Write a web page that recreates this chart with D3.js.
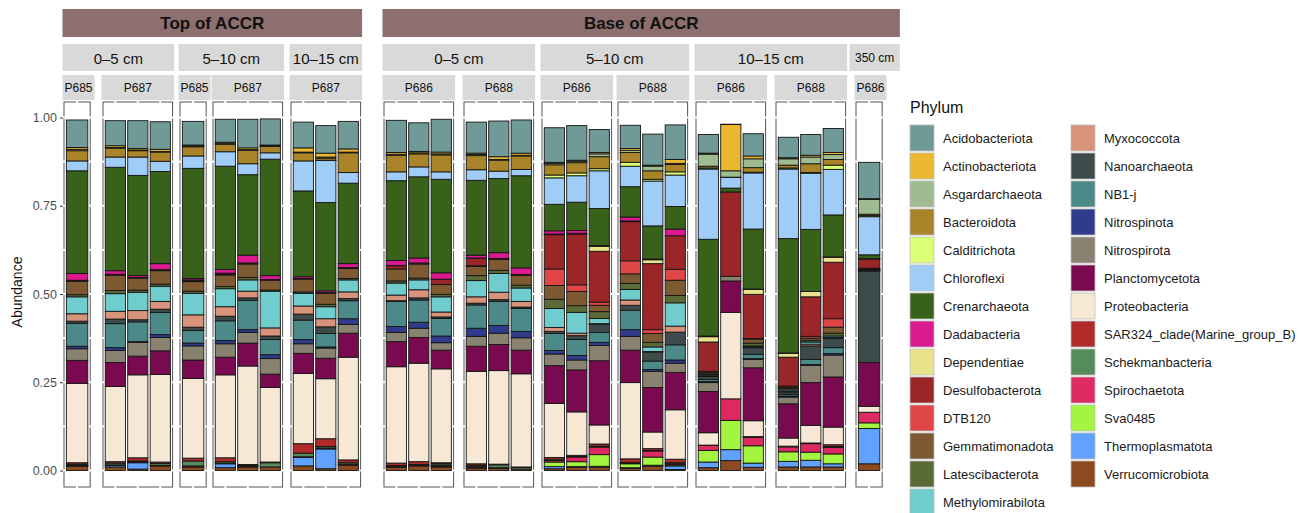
<!DOCTYPE html>
<html>
<head>
<meta charset="utf-8">
<script src="https://cdn.jsdelivr.net/npm/d3@7"></script>
<style>
  body { margin: 0; background: #fff; }
  svg { display: block; font-family: "Liberation Sans", Arial, sans-serif; }
</style>
</head>
<body>
<svg id="chart" width="1306" height="513"></svg>
<script>
// ---- Samples (one stacked bar each) ----
const sampleIds = [
  "T05-P685-1", "T05-P687-1", "T05-P687-2", "T05-P687-3",
  "T510-P685-1", "T510-P687-1", "T510-P687-2", "T510-P687-3",
  "T1015-P687-1", "T1015-P687-2", "T1015-P687-3",
  "B05-P686-1", "B05-P686-2", "B05-P686-3", "B05-P688-1", "B05-P688-2", "B05-P688-3",
  "B510-P686-1", "B510-P686-2", "B510-P686-3", "B510-P688-1", "B510-P688-2", "B510-P688-3",
  "B1015-P686-1", "B1015-P686-2", "B1015-P686-3", "B1015-P688-1", "B1015-P688-2", "B1015-P688-3",
  "B350-P686-1"
];
const sampleLocation = [
  "Top of ACCR", "Top of ACCR", "Top of ACCR", "Top of ACCR", "Top of ACCR", "Top of ACCR",
  "Top of ACCR", "Top of ACCR", "Top of ACCR", "Top of ACCR", "Top of ACCR",
  "Base of ACCR", "Base of ACCR", "Base of ACCR", "Base of ACCR", "Base of ACCR", "Base of ACCR",
  "Base of ACCR", "Base of ACCR", "Base of ACCR", "Base of ACCR", "Base of ACCR", "Base of ACCR",
  "Base of ACCR", "Base of ACCR", "Base of ACCR", "Base of ACCR", "Base of ACCR", "Base of ACCR",
  "Base of ACCR"
];
const sampleDepth = [
  "0–5 cm", "0–5 cm", "0–5 cm", "0–5 cm",
  "5–10 cm", "5–10 cm", "5–10 cm", "5–10 cm",
  "10–15 cm", "10–15 cm", "10–15 cm",
  "0–5 cm", "0–5 cm", "0–5 cm", "0–5 cm", "0–5 cm", "0–5 cm",
  "5–10 cm", "5–10 cm", "5–10 cm", "5–10 cm", "5–10 cm", "5–10 cm",
  "10–15 cm", "10–15 cm", "10–15 cm", "10–15 cm", "10–15 cm", "10–15 cm",
  "350 cm"
];
const sampleCore = [
  "P685", "P687", "P687", "P687",
  "P685", "P687", "P687", "P687",
  "P687", "P687", "P687",
  "P686", "P686", "P686", "P688", "P688", "P688",
  "P686", "P686", "P686", "P688", "P688", "P688",
  "P686", "P686", "P686", "P688", "P688", "P688",
  "P686"
];

// ---- Phyla (legend order, top of stack first) ----
const phyla = [
  "Acidobacteriota", "Actinobacteriota", "Asgardarchaeota", "Bacteroidota", "Calditrichota",
  "Chloroflexi", "Crenarchaeota", "Dadabacteria", "Dependentiae", "Desulfobacterota",
  "DTB120", "Gemmatimonadota", "Latescibacterota", "Methylomirabilota", "Myxococcota",
  "Nanoarchaeota", "NB1-j", "Nitrospinota", "Nitrospirota", "Planctomycetota",
  "Proteobacteria", "SAR324_clade(Marine_group_B)", "Schekmanbacteria", "Spirochaetota",
  "Sva0485", "Thermoplasmatota", "Verrucomicrobiota"
];
const phylumColors = [
  "#6f9a98", "#ecb730", "#9ebc90", "#a98428", "#dbff75",
  "#a0cdf8", "#386219", "#dc1a8f", "#ebe38c", "#9a2628",
  "#e04646", "#7e5a32", "#5b6b37", "#70cdcd", "#d8937b",
  "#3d4b4b", "#4b8a88", "#2e3c8b", "#8a8270", "#7a0a4f",
  "#f7e8d6", "#b02a2a", "#568c5b", "#dd2a62",
  "#a4f53f", "#62a2ff", "#8b4a1f"
];

// ---- Relative abundance per phylum, one value per sample ----
const acidobacteriota   = [0.078,0.071,0.079,0.078,0.067,0.065,0.081,0.074,0.073,0.078,0.078,0.091,0.081,0.093,0.088,0.101,0.094,0.098,0.098,0.065,0.066,0.088,0.098,0.053,0.001,0.063,0.058,0.059,0.068,0.103];
const actinobacteriota  = [0.005,0.005,0.004,0.006,0.002,0.003,0.005,0.002,0.012,0.011,0.009,0.005,0.004,0.005,0.004,0.008,0.006,0.003,0.003,0.004,0.005,0.003,0.011,0.003,0.131,0.008,0.003,0.005,0.006,0.002];
const asgardarchaeota   = [0.004,0.002,0.002,0.002,0.003,0.003,0.002,0.002,0.002,0.003,0.002,0.003,0.003,0.003,0.003,0.002,0.002,0.004,0.004,0.008,0.006,0.013,0.003,0.034,0.018,0.025,0.018,0.019,0.014,0.042];
const bacteroidota      = [0.029,0.025,0.018,0.026,0.026,0.021,0.038,0.018,0.023,0.006,0.056,0.047,0.037,0.048,0.040,0.031,0.038,0.029,0.029,0.034,0.028,0.024,0.021,0.005,0.001,0.013,0.008,0.025,0.016,0.004];
const calditrichota     = [0,0,0,0,0,0,0,0,0,0.001,0,0,0,0,0,0,0,0.008,0.008,0.006,0.011,0.005,0.009,0.003,0,0.002,0.003,0.002,0.012,0.003];
const chloroflexi       = [0.028,0.029,0.052,0.029,0.035,0.041,0.031,0.018,0.085,0.119,0.030,0.025,0.028,0.021,0.030,0.021,0.018,0.075,0.075,0.107,0.058,0.127,0.089,0.199,0.030,0.159,0.197,0.159,0.129,0.108];
const crenarchaeota     = [0.291,0.293,0.284,0.261,0.312,0.292,0.228,0.330,0.243,0.250,0.228,0.226,0.230,0.265,0.212,0.210,0.261,0.075,0.080,0.105,0.086,0.094,0.064,0.274,0.011,0.170,0.324,0.176,0.119,0.011];
const dadabacteria      = [0.019,0.010,0.005,0.017,0.004,0.011,0.022,0.011,0.005,0.005,0.011,0.014,0.014,0.018,0.008,0.016,0.019,0.009,0.008,0.002,0.011,0.002,0.019,0.002,0,0.001,0.001,0,0.001,0.001];
const dependentiae      = [0.001,0,0,0,0,0,0,0,0,0,0,0.001,0,0.001,0.001,0,0,0.002,0.002,0.014,0.002,0.011,0,0.015,0,0.014,0.011,0.015,0.014,0];
const desulfobacterota  = [0.002,0.003,0.002,0.003,0.003,0.003,0.003,0.002,0.002,0.002,0.003,0.009,0.003,0.014,0.021,0.003,0.002,0.097,0.144,0.144,0.111,0.187,0.095,0.083,0.239,0.125,0.082,0.112,0.160,0.026];
const dtb120            = [0,0,0,0,0.002,0.002,0,0,0,0,0,0,0,0,0.002,0,0,0.047,0.019,0.009,0.037,0.011,0.031,0.003,0,0.002,0.003,0.005,0.024,0.002];
const gemmatimonadota   = [0.038,0.043,0.034,0.038,0.027,0.033,0.038,0.028,0.036,0.031,0.028,0.034,0.040,0.028,0.026,0.031,0.028,0.039,0.040,0.018,0.027,0.025,0.043,0.004,0,0.011,0.004,0.006,0.017,0.002];
const latescibacterota  = [0.006,0.009,0.006,0.006,0.006,0.006,0.007,0.003,0.004,0.007,0.004,0.006,0.005,0.007,0.014,0.009,0.008,0.026,0.019,0.019,0.017,0.013,0.021,0.003,0,0.008,0.004,0.005,0.008,0.002];
const methylomirabilota = [0.048,0.050,0.052,0.043,0.061,0.051,0.032,0.104,0.036,0.034,0.034,0.034,0.028,0.043,0.046,0.053,0.038,0.054,0.059,0.015,0.030,0.013,0.066,0.003,0,0.003,0.004,0.006,0.004,0.001];
const myxococcota       = [0.021,0.022,0.026,0.022,0.035,0.027,0.019,0.023,0.023,0.023,0.019,0.016,0.023,0.014,0.018,0.021,0.016,0.011,0.007,0.002,0.015,0.002,0.017,0.002,0,0.002,0.002,0.005,0.003,0.001];
const nanoarchaeota     = [0.006,0.013,0.006,0.009,0.009,0.013,0.007,0.010,0.017,0.019,0.006,0.002,0.006,0.004,0.005,0.005,0.004,0.006,0.011,0.023,0.014,0.025,0.036,0.008,0,0.019,0.006,0.038,0.026,0.259];
const nb1j              = [0.065,0.068,0.056,0.063,0.036,0.056,0.083,0.043,0.055,0.038,0.051,0.071,0.063,0.050,0.066,0.068,0.065,0.048,0.045,0.028,0.055,0.024,0.043,0.006,0,0.012,0.005,0.015,0.017,0];
const nitrospinota      = [0.007,0.008,0.002,0.008,0.008,0.009,0.008,0.011,0.012,0.003,0.016,0.017,0.017,0.019,0.023,0.022,0.018,0.010,0.013,0.009,0.019,0.005,0.009,0.003,0,0.002,0.003,0.002,0.004,0];
const nitrospirota      = [0.033,0.034,0.039,0.038,0.040,0.038,0.030,0.044,0.027,0.029,0.025,0.026,0.026,0.021,0.028,0.032,0.035,0.033,0.028,0.043,0.039,0.046,0.026,0.025,0.013,0.024,0.019,0.049,0.062,0];
const planctomycetota   = [0.065,0.068,0.053,0.067,0.052,0.050,0.065,0.038,0.057,0.058,0.068,0.071,0.073,0.053,0.071,0.074,0.067,0.107,0.119,0.182,0.092,0.126,0.106,0.117,0.089,0.150,0.097,0.121,0.142,0.124];
const proteobacteria    = [0.225,0.213,0.235,0.248,0.226,0.235,0.279,0.211,0.199,0.170,0.291,0.273,0.279,0.266,0.262,0.265,0.264,0.153,0.123,0.054,0.216,0.047,0.140,0.035,0.245,0.045,0.023,0.050,0.050,0.017];
const sar324            = [0.004,0.004,0.009,0.004,0.008,0.011,0.003,0.002,0.027,0.022,0.008,0.007,0.008,0.003,0.004,0.002,0.001,0.005,0.003,0.006,0.010,0.005,0.010,0.001,0,0.002,0.002,0.002,0.005,0];
const schekmanbacteria  = [0.003,0.005,0.003,0.005,0.014,0.004,0.002,0.012,0.010,0.004,0.004,0.003,0.002,0.004,0.003,0.008,0.005,0.004,0.002,0.003,0.002,0.002,0.003,0,0,0,0,0,0.003,0];
const spirochaetota     = [0.002,0.002,0.002,0.001,0.003,0.002,0.002,0,0.002,0.003,0.003,0.002,0.002,0.003,0.003,0.002,0,0.004,0.013,0.021,0.002,0.017,0.003,0.014,0.061,0.024,0.014,0.024,0.018,0.030];
const sva0485           = [0,0,0,0,0,0,0,0,0,0,0,0,0,0.002,0.003,0,0,0.013,0.014,0.033,0.011,0.023,0.003,0.033,0.083,0.049,0.027,0.023,0.028,0.016];
const thermoplasmatota  = [0.001,0.004,0.018,0.001,0,0.011,0,0,0.024,0.056,0,0,0,0,0,0,0,0.006,0.002,0.003,0.002,0.003,0.010,0.016,0.031,0.012,0.016,0.019,0.009,0.100];
const verrucomicrobiota = [0.012,0.010,0.004,0.013,0.010,0.008,0.010,0.010,0.013,0.005,0.015,0.009,0.013,0.010,0.006,0.006,0.004,0.005,0.009,0.009,0.006,0.012,0.003,0.008,0.028,0.009,0.010,0.010,0.010,0.019];

const abundanceByPhylum = [
  acidobacteriota, actinobacteriota, asgardarchaeota, bacteroidota, calditrichota,
  chloroflexi, crenarchaeota, dadabacteria, dependentiae, desulfobacterota,
  dtb120, gemmatimonadota, latescibacterota, methylomirabilota, myxococcota,
  nanoarchaeota, nb1j, nitrospinota, nitrospirota, planctomycetota,
  proteobacteria, sar324, schekmanbacteria, spirochaetota,
  sva0485, thermoplasmatota, verrucomicrobiota
];

const yTicks = [0, 0.25, 0.5, 0.75, 1];

// ---- Layout ----
const svg = d3.select("#chart");
const color = d3.scaleOrdinal().domain(phyla).range(phylumColors);
const y = d3.scaleLinear().domain([0, 1]).range([470.5, 117.5]);
const panelTop = 102, panelBottom = 487;
const barStep = 21.7, panelPad = 2.25;
const panelLeft = [64, 103, 180, 213, 291, 384, 464, 542, 618, 696, 776, 856];

// one record per sample, with a field per phylum
const samples = sampleIds.map((id, i) => {
  const row = { id, location: sampleLocation[i], depth: sampleDepth[i], core: sampleCore[i] };
  phyla.forEach((p, k) => { row[p] = abundanceByPhylum[k][i]; });
  return row;
});

// facet cells: consecutive samples sharing location, depth and core
const panels = [];
samples.forEach(s => {
  const key = s.location + "|" + s.depth + "|" + s.core;
  let p = panels[panels.length - 1];
  if (!p || p.key !== key) {
    p = { key, location: s.location, depth: s.depth, core: s.core, rows: [] };
    panels.push(p);
  }
  p.rows.push(s);
  s.panel = p;
});
panels.forEach((p, i) => {
  p.x0 = panelLeft[i];
  p.x1 = p.x0 + p.rows.length * barStep + 2 * panelPad;
  p.x = d3.scaleBand().domain(p.rows.map(r => r.id)).range([p.x0, p.x1])
    .paddingInner(0.1).paddingOuter(0.1);
});

// ---- Panels ----
const gPanels = svg.append("g");
panels.forEach(p => {
  gPanels.append("rect")
    .attr("x", p.x0).attr("y", panelTop)
    .attr("width", p.x1 - p.x0).attr("height", panelBottom - panelTop)
    .attr("fill", "#fff").attr("stroke", "#555").attr("stroke-width", 1);
  // white grid lines cutting through the frame
  p.rows.forEach(r => {
    const cx = p.x(r.id) + p.x.bandwidth() / 2;
    [panelTop, panelBottom].forEach(yy => {
      gPanels.append("line").attr("x1", cx).attr("x2", cx)
        .attr("y1", yy - 1.5).attr("y2", yy + 1.5)
        .attr("stroke", "#fff").attr("stroke-width", 2);
    });
  });
  d3.range(0, 1.0001, 0.125).forEach(t => {
    [p.x0, p.x1].forEach(xx => {
      gPanels.append("line").attr("x1", xx - 1.5).attr("x2", xx + 1.5)
        .attr("y1", y(t)).attr("y2", y(t))
        .attr("stroke", "#fff").attr("stroke-width", 2);
    });
  });
});

// ---- Stacked bars ----
const stacked = d3.stack().keys(phyla.slice().reverse())(samples);
const segments = [];
stacked.forEach(layer => {
  layer.forEach((d, j) => {
    if (d[1] - d[0] > 0) segments.push({ phylum: layer.key, sample: samples[j], y0: d[0], y1: d[1] });
  });
});
svg.append("g").selectAll("rect").data(segments).join("rect")
  .attr("x", d => d.sample.panel.x(d.sample.id))
  .attr("width", d => d.sample.panel.x.bandwidth())
  .attr("y", d => y(d.y1))
  .attr("height", d => y(d.y0) - y(d.y1))
  .attr("fill", d => color(d.phylum))
  .attr("stroke", "#151515").attr("stroke-width", 0.9);

// ---- Facet strips ----
const gStrips = svg.append("g");
function strip(x0, x1, y0, y1, fill, label, fontSize, weight, minPad, growLeft) {
  const g = gStrips.append("g");
  const t = g.append("text").text(label)
    .attr("font-size", fontSize).attr("font-weight", weight)
    .attr("fill", "#111").attr("text-anchor", "middle").attr("dominant-baseline", "central");
  const tw = t.node().getComputedTextLength();
  if (tw + minPad > x1 - x0) {
    x0 -= growLeft || 0;
    x1 = x0 + tw + minPad;
  }
  t.attr("x", (x0 + x1) / 2).attr("y", (y0 + y1) / 2 + 0.5);
  g.insert("rect", "text").attr("x", x0).attr("y", y0)
    .attr("width", x1 - x0).attr("height", y1 - y0).attr("fill", fill);
  return [x0, x1];
}

// core strips
panels.forEach(p => strip(p.x0 - 1.5, p.x1 + 1.5, 75, 100, "#d9d9d9", p.core, 12, "normal", 4, 0));

// depth strips
const depthGroups = d3.groups(panels, p => p.location + "|" + p.depth);
const depthSpans = {};
depthGroups.forEach(([key, ps]) => {
  const narrow = ps[0].depth === "350 cm";
  const span = strip(ps[0].x0 - 1.5, ps[ps.length - 1].x1 + 1.5, 44, 71, "#d9d9d9",
    ps[0].depth, narrow ? 12 : 15, "normal", narrow ? 11 : 4, narrow ? 5 : 0);
  const loc = ps[0].location;
  depthSpans[loc] = depthSpans[loc] || [];
  depthSpans[loc].push(span);
});

// location strips
Object.entries(depthSpans).forEach(([loc, spans]) => {
  strip(d3.min(spans, s => s[0]), d3.max(spans, s => s[1]), 9, 37, "#8c6f6e", loc, 17, "bold", 10, 0);
});

// ---- Y axis ----
const yAxis = svg.append("g").attr("transform", "translate(63,0)")
  .call(d3.axisLeft(y).tickValues(yTicks).tickFormat(d3.format(".2f")).tickSize(3).tickPadding(3));
yAxis.select(".domain").remove();
yAxis.selectAll(".tick line").attr("stroke", "#333");
yAxis.selectAll(".tick text").attr("fill", "#4d4d4d").attr("font-size", 12.5)
  .attr("font-family", "'Liberation Sans', Arial, sans-serif");

svg.append("text").text("Abundance")
  .attr("transform", "translate(22,292) rotate(-90)")
  .attr("text-anchor", "middle").attr("font-size", 14).attr("fill", "#111");

// ---- Legend ----
const legend = svg.append("g");
legend.append("text").text("Phylum").attr("x", 910).attr("y", 113)
  .attr("font-size", 16).attr("fill", "#111");
const perColumn = 14;
phyla.forEach((p, i) => {
  const col = Math.floor(i / perColumn), row = i % perColumn;
  const lx = 910 + col * 161, ly = 125 + row * 28;
  legend.append("rect").attr("x", lx).attr("y", ly).attr("width", 24).attr("height", 26)
    .attr("fill", color(p)).attr("stroke", "#bdbdbd").attr("stroke-width", 0.8);
  legend.append("text").text(p).attr("x", lx + 33).attr("y", ly + 13.5)
    .attr("dominant-baseline", "central").attr("font-size", 13).attr("fill", "#1a1a1a");
});
</script>
</body>
</html>
